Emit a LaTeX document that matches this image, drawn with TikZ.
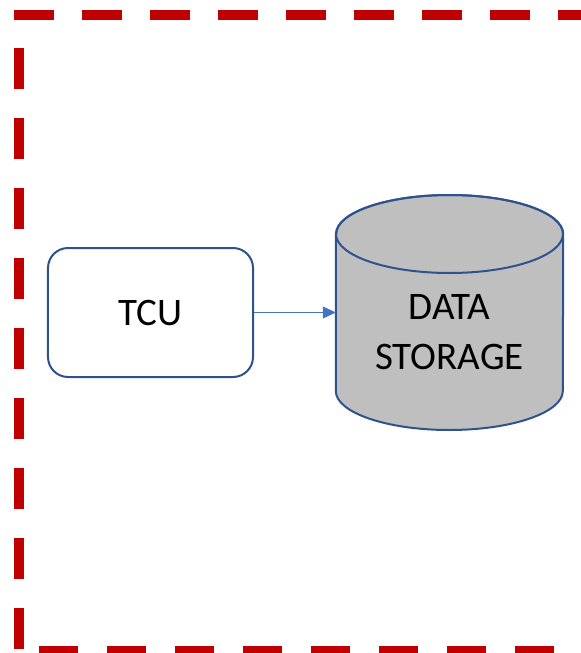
\documentclass[tikz,border=0pt]{standalone}
\usepackage{fontspec}
\setmainfont{Carlito}
\usetikzlibrary{arrows.meta}
\definecolor{frame}{HTML}{C00000}
\definecolor{outline}{HTML}{2F528F}
\definecolor{link}{HTML}{4472C4}
\definecolor{drum}{HTML}{BFBFBF}
\tikzset{
  border/.style={draw=frame, line width=10bp, line cap=butt},
  unitbox/.style={draw=outline, line width=2bp, rounded corners=20bp,
    minimum width=205bp, minimum height=129bp, inner sep=0pt,
    font=\fontsize{39bp}{49bp}\selectfont},
  label/.style={inner sep=0pt, align=center,
    font=\fontsize{39bp}{50bp}\selectfont},
  feed/.style={draw=link, line width=1bp, -{Triangle[length=13bp,width=12bp]}}
}
\begin{document}
\begin{tikzpicture}[x=1bp, y=-1bp]
  \useasboundingbox (0,0) rectangle (581,653);
  \begin{scope}
    \clip (0,0) rectangle (581,653);
    % dashed enclosure, each side with its own dash rhythm
    \coordinate (tl) at (14,15);
    \coordinate (tr) at (620,15);
    \coordinate (ls) at (19,48);
    \coordinate (le) at (19,660);
    \coordinate (bl) at (39,651);
    \coordinate (br) at (620,651);
    \draw[border, dash pattern=on 40bp off 28bp] (tl) -- (tr);
    \draw[border, dash pattern=on 41bp off 29bp] (ls) -- (le);
    \draw[border, dash pattern=on 39bp off 29bp] (bl) -- (br);
  \end{scope}

  % telematics control unit
  \node[unitbox] (tcu) at (150.5,312.5) {TCU};

  % storage drum
  \node[minimum width=227bp, minimum height=236bp, inner sep=0pt] (store) at (449.5,312.5) {};
  \draw[outline, line width=2bp, fill=drum]
    (store.west |- 0,234) -- (store.west |- 0,391)
    arc[start angle=180, end angle=0, x radius=113.5, y radius=39]
    -- (store.east |- 0,234)
    arc[start angle=0, end angle=-180, x radius=113.5, y radius=39] -- cycle;
  \draw[outline, line width=2bp] (store.center |- 0,234) ellipse [x radius=113.5, y radius=39];
  \node[label] (storetext) at (449.5,332.5) {DATA\\STORAGE};

  \draw[feed] (tcu.east) -- (store.west);
\end{tikzpicture}
\end{document}
